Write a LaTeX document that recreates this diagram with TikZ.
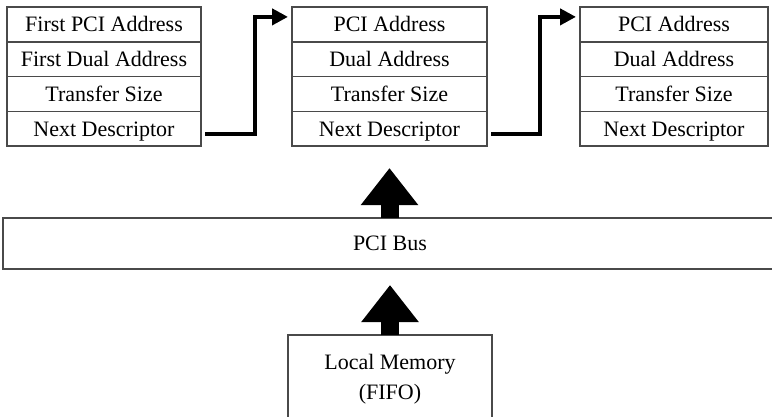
\documentclass[tikz,border=0pt]{standalone}
\usepackage{fontspec}
\setmainfont{Liberation Serif}
\usetikzlibrary{arrows.meta, positioning}
\definecolor{cframe}{HTML}{4A4A4A}
\tikzset{
  every picture/.style={x=1pt, y=-1pt},
  frame/.style={draw=cframe, fill=white, line width=1.5pt, inner sep=0pt, outer sep=0pt,
    font=\fontsize{22}{30}\selectfont},
  field/.style={frame, minimum height=34.75pt, text height=19pt, text depth=4pt},
  link/.style={-{Triangle[length=16pt, width=16pt]}, line width=4.5pt, draw=black},
  blockarrow/.style={-{Triangle[length=37pt, width=55pt]}, line width=18pt, draw=black},
}
\begin{document}
\begin{tikzpicture}
  \useasboundingbox (0,0) rectangle (772,417);
  % ---- the three descriptors ----
  \foreach \t [count=\i from 0] in {First PCI Address, First Dual Address, Transfer Size, Next Descriptor}
    \node[field, minimum width=194pt] (a\i) at (104,24.4+\i*34.75) {\t};
  \foreach \t [count=\i from 0] in {PCI Address, Dual Address, Transfer Size, Next Descriptor}
    \node[field, minimum width=195pt] (b\i) at (389.5,24.4+\i*34.75) {\t};
  \foreach \t [count=\i from 0] in {PCI Address, Dual Address, Transfer Size, Next Descriptor}
    \node[field, minimum width=188pt] (c\i) at (674,24.4+\i*34.75) {\t};
  % ---- bus and memory ----
  \node[field, minimum width=774pt, minimum height=51pt] (bus) at (390,243.5) {PCI Bus};
  \node[frame, minimum width=204pt, anchor=north, inner ysep=19pt, text depth=16pt, align=center] (mem)
    at (390,335) {Local Memory\\(FIFO)};
  % ---- next descriptor links ----
  \draw[link] ([xshift=4pt, yshift=-5.5pt]a3.east) -- ++(50,0) |- ([xshift=-4pt, yshift=7.5pt]b0.west);
  \draw[link] ([xshift=4pt, yshift=-5.5pt]b3.east) -- ++(49,0) |- ([xshift=-4pt, yshift=7.5pt]c0.west);
  % ---- data flow ----
  \draw[blockarrow, shorten >=16pt] (mem.north) -- (mem.north |- bus.south);
  \draw[blockarrow, shorten >=22pt] (b3.south |- bus.north) -- (b3.south);
\end{tikzpicture}
\end{document}
